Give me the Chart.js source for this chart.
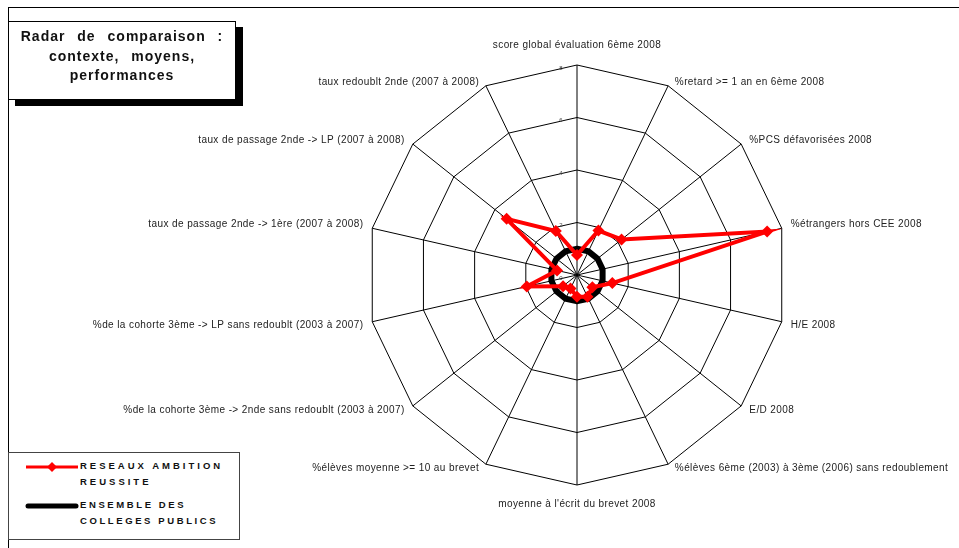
<!DOCTYPE html>
<html>
<head>
<meta charset="utf-8">
<script src="https://cdn.jsdelivr.net/npm/chart.js@4.4.0/dist/chart.umd.min.js"></script>
<style>
  body { margin: 0; background: #fff; font-family: "Liberation Sans", Arial, sans-serif; }
  #wrap { position: relative; width: 959px; height: 548px; overflow: hidden; }
  #frame { position: absolute; left: 8px; top: 7px; width: 970px; height: 560px;
           border-top: 1px solid #000; border-left: 1px solid #000; }
  canvas { position: absolute; left: 0; top: 0; }
  #title { position: absolute; left: 8px; top: 21px; width: 228px; height: 79px; box-sizing: border-box;
           border: 1px solid #000; background: #fff; box-shadow: 7px 6px 0 #000;
           text-align: center; font-weight: bold; font-size: 14px; letter-spacing: 1px; word-spacing: 7px;
           line-height: 19.5px; padding-top: 5px; color: #111; white-space: nowrap; }
  #legend { position: absolute; left: 8px; top: 452px; width: 232px; height: 88px; box-sizing: border-box;
            border: 1px solid #444; background: #fff; }
  .lg { position: absolute; left: 71px; font-weight: bold; font-size: 9.5px; letter-spacing: 3px;
        line-height: 16px; color: #111; white-space: nowrap; }
  .mk { position: absolute; left: 16px; }
</style>
</head>
<body>
<div id="wrap">
  <div id="frame"></div>
  <canvas id="radar" width="959" height="548"></canvas>
  <div id="title">Radar de comparaison :<br>contexte, moyens,<br>performances</div>
  <div id="legend">
    <svg class="mk" style="top:7px" width="56" height="14">
      <line x1="1" y1="7" x2="53" y2="7" stroke="#ff0000" stroke-width="3"/>
      <polygon points="27,2 32,7 27,12 22,7" fill="#ff0000"/>
    </svg>
    <div class="lg" style="top:5px">RESEAUX AMBITION<br>REUSSITE</div>
    <svg class="mk" style="top:46px" width="56" height="14">
      <line x1="3" y1="7" x2="51" y2="7" stroke="#000" stroke-width="5" stroke-linecap="round"/>
    </svg>
    <div class="lg" style="top:44px; letter-spacing: 2.6px">ENSEMBLE DES<br>COLLEGES PUBLICS</div>
  </div>
</div>
<script>
// axes du radar (sens horaire depuis le haut)
const categories = [
  "score global évaluation 6ème 2008",
  "%retard >= 1 an en 6ème 2008",
  "%PCS défavorisées 2008",
  "%étrangers hors CEE 2008",
  "H/E 2008",
  "E/D 2008",
  "%élèves 6ème (2003) à 3ème (2006) sans redoublement",
  "moyenne à l'écrit du brevet 2008",
  "%élèves moyenne >= 10 au brevet",
  "%de la cohorte 3ème -> 2nde sans redoublt (2003 à 2007)",
  "%de la cohorte 3ème -> LP sans redoublt (2003 à 2007)",
  "taux de passage 2nde -> 1ère (2007 à 2008)",
  "taux de passage 2nde -> LP (2007 à 2008)",
  "taux redoublt 2nde (2007 à 2008)"
];

const reseauxAmbition = [0.76, 1.88, 2.17, 7.43, 1.38, 0.75, 0.92, 0.83, 0.57, 0.68, 1.96, 0.78, 3.43, 1.86];
const collegesPublics = [1, 1, 1, 1, 1, 1, 1, 1, 1, 1, 1, 1, 1, 1];

const tickValues = [0, 2, 4, 6, 8];

// libellés des axes, placés comme dans Excel
const pointLabelsPlugin = {
  id: "pointLabelsExcel",
  afterDraw(chart) {
    const scale = chart.scales.r;
    const ctx = chart.ctx;
    const n = categories.length;
    ctx.save();
    ctx.font = "10px 'Liberation Sans', Arial, sans-serif";
    ctx.letterSpacing = "0.4px";
    ctx.fillStyle = "#222";
    ctx.textBaseline = "middle";
    categories.forEach((label, i) => {
      const p = scale.getPointPosition(i, scale.drawingArea);
      const a = i * 360 / n;
      const s = Math.abs(Math.sin(a * Math.PI / 180));
      const off = 5 + 4 * s;
      if (i === 0) {
        ctx.textAlign = "center";
        ctx.fillText(label, p.x, p.y - 20);
      } else if (a === 180) {
        ctx.textAlign = "center";
        ctx.fillText(label, p.x, p.y + 19);
      } else if (a < 180) {
        ctx.textAlign = "left";
        ctx.fillText(label, p.x + off, p.y + (a < 90 ? -4 : 4));
      } else {
        ctx.textAlign = "right";
        ctx.fillText(label, p.x - off, p.y + (a > 270 ? -4 : 4));
      }
    });

    // graduations
    ctx.letterSpacing = "0px";
    ctx.font = "6px 'Liberation Sans', Arial, sans-serif";
    ctx.fillStyle = "#444";
    ctx.textAlign = "center";
    tickValues.forEach(v => {
      const r = scale.getDistanceFromCenterForValue(v);
      ctx.fillText(String(v), scale.xCenter - 16, scale.yCenter - r + 3);
    });
    ctx.restore();
  }
};

new Chart(document.getElementById("radar"), {
  type: "radar",
  data: {
    labels: categories,
    datasets: [
      {
        label: "RESEAUX AMBITION REUSSITE",
        data: reseauxAmbition,
        borderColor: "#ff0000",
        backgroundColor: "#ff0000",
        borderWidth: 4,
        fill: false,
        tension: 0,
        pointStyle: "rectRot",
        pointRadius: 6,
        pointBackgroundColor: "#ff0000",
        pointBorderColor: "#ff0000",
        pointBorderWidth: 0
      },
      {
        label: "ENSEMBLE DES COLLEGES PUBLICS",
        data: collegesPublics,
        borderColor: "#000000",
        backgroundColor: "#000000",
        borderWidth: 6,
        fill: false,
        tension: 0,
        pointRadius: 0
      }
    ]
  },
  options: {
    responsive: false,
    animation: false,
    layout: { padding: { left: 367, right: 172, top: 65, bottom: 63 } },
    plugins: {
      legend: { display: false },
      title: { display: false },
      tooltip: { enabled: false }
    },
    scales: {
      r: {
        min: 0,
        max: 8,
        ticks: { display: false, stepSize: 2 },
        pointLabels: { display: false },
        grid: { color: "#000", lineWidth: 1 },
        angleLines: { color: "#000", lineWidth: 1 }
      }
    }
  },
  plugins: [pointLabelsPlugin]
});
</script>
</body>
</html>
